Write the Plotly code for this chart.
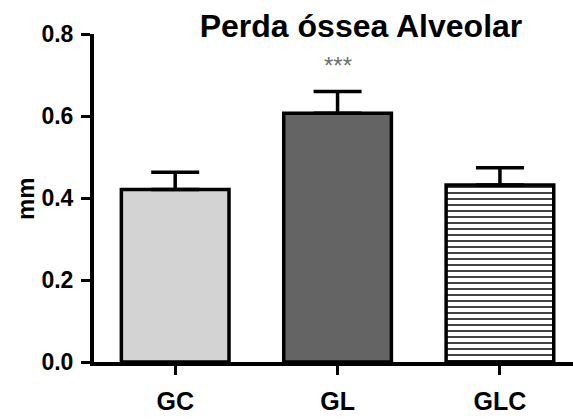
import plotly.graph_objects as go

categories = ["GC", "GL", "GLC"]
means = [0.421, 0.607, 0.432]
sems = [0.042, 0.053, 0.042]
fills = ["#d3d3d3", "#646464", "#ffffff"]
y_ticks = [0.0, 0.2, 0.4, 0.6, 0.8]
y_ticklabels = ["0.0", "0.2", "0.4", "0.6", "0.8"]
title_text = "Perda óssea Alveolar"
y_title = "mm"
signif = "***"

FONT = "Arial, Liberation Sans, sans-serif"

L, R, T, B = 94, 0, 34, 57
W, H = 573, 419
PW, PH = W - L - R, H - T - B

fig = go.Figure()
fig.add_trace(go.Bar(
    x=categories,
    y=means,
    width=0.663,
    marker=dict(
        color=fills,
        line=dict(color="black", width=3.5),
        pattern=dict(
            shape=["", "", "-"],
            fillmode="overlay",
            fgcolor="black",
            fgopacity=1,
            size=6,
            solidity=0.34,
        ),
    ),
    error_y=dict(
        type="data",
        symmetric=False,
        array=sems,
        arrayminus=[0, 0, 0],
        color="black",
        thickness=3.5,
        width=24,
    ),
    showlegend=False,
    hoverinfo="skip",
))

fig.add_annotation(
    x=categories[1], y=means[1] + sems[1],
    xref="x", yref="y",
    text=signif, showarrow=False,
    yanchor="bottom", yshift=10,
    font=dict(family=FONT, size=24, color="#707070"),
)

fig.add_annotation(
    x=(25 - L) / PW, y=(H - B - 199) / PH,
    xref="paper", yref="paper",
    text="<b>" + y_title + "</b>", showarrow=False,
    textangle=-90, xanchor="center", yanchor="middle",
    font=dict(family=FONT, size=24, color="black"),
)

fig.update_layout(
    width=W, height=H,
    margin=dict(l=L, r=R, t=T, b=B, autoexpand=False),
    paper_bgcolor="white", plot_bgcolor="white",
    title=dict(
        text="<b>" + title_text + "</b>",
        x=361 / W, xref="container", xanchor="center",
        y=1 - 26 / H, yref="container", yanchor="middle",
        font=dict(family=FONT, size=32, color="black"),
    ),
    xaxis=dict(
        range=[-0.5, 2.45],
        automargin=False,
        showline=True, linecolor="black", linewidth=4,
        ticks="outside", ticklen=9, tickwidth=2.5, tickcolor="black",
        tickfont=dict(family=FONT, size=25, color="black"),
        ticklabelstandoff=5,
        showgrid=False, zeroline=False,
        tickprefix="<b>", ticksuffix="</b>",
    ),
    yaxis=dict(
        range=[0, 0.8],
        automargin=False,
        tickvals=y_ticks, ticktext=["<b>" + t + "</b>" for t in y_ticklabels],
        showline=True, linecolor="black", linewidth=4,
        ticks="outside", ticklen=9, tickwidth=3, tickcolor="black",
        tickfont=dict(family=FONT, size=23, color="black"),
        ticklabelstandoff=3,
        showgrid=False, zeroline=False,
    ),
)

fig.write_html(
    "out.html",
    config={"displayModeBar": False},
    post_script="document.body.style.margin='0';document.body.style.overflow='hidden';",
)
